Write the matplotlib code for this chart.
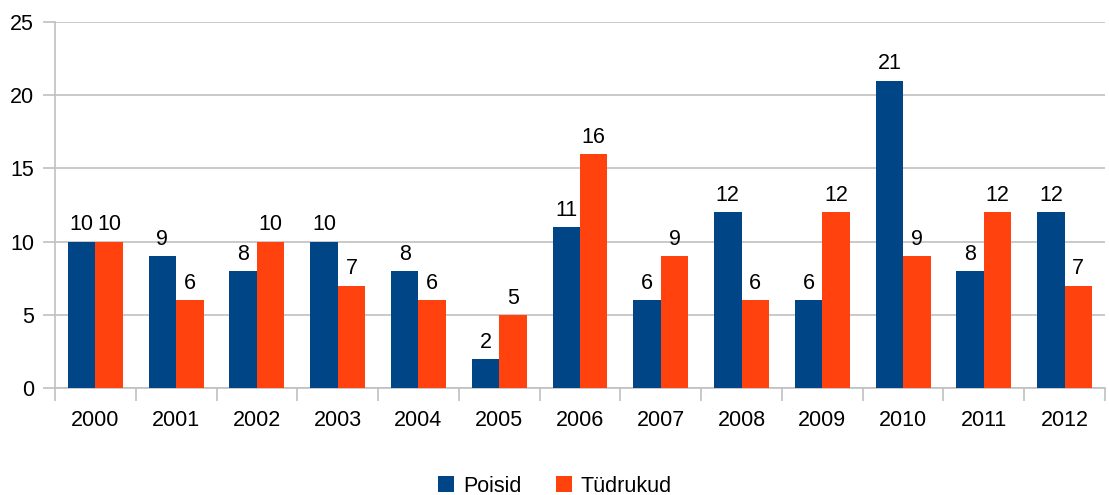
import matplotlib
matplotlib.use("Agg")
import matplotlib.pyplot as plt
import numpy as np

years = ["2000", "2001", "2002", "2003", "2004", "2005", "2006", "2007", "2008", "2009", "2010", "2011", "2012"]
poisid = [10, 9, 8, 10, 8, 2, 11, 6, 12, 6, 21, 8, 12]
tudrukud = [10, 6, 10, 7, 6, 5, 16, 9, 6, 12, 9, 12, 7]

blue = "#004586"
orange = "#ff420e"
grid = "#c0c0c0"
fs = 15.5

plt.rcParams['font.family'] = ['Liberation Sans', 'DejaVu Sans']
fig = plt.figure(figsize=(11.09, 4.95), dpi=100)
ax = fig.add_axes([55 / 1109, 1 - 388 / 495, 1050 / 1109, 366 / 495])

x = np.arange(len(years))
w = 0.34
b1 = ax.bar(x - w / 2, poisid, w, color=blue, label="Poisid", zorder=3)
b2 = ax.bar(x + w / 2, tudrukud, w, color=orange, label="Tüdrukud", zorder=3)
for bars, vals in ((b1, poisid), (b2, tudrukud)):
    for r, v in zip(bars, vals):
        ax.annotate(str(v), (r.get_x() + r.get_width() / 2, v), xytext=(0, 8), textcoords="offset points",
                    ha="center", va="baseline", fontsize=fs, color="black")

ax.set_xlim(-0.5, len(years) - 0.5)
ax.set_ylim(0, 25)
ax.set_yticks(range(0, 26, 5))
ax.yaxis.grid(True, color=grid, linewidth=1.2, zorder=0)
ax.set_xticks(x)
ax.set_xticklabels(years, fontsize=fs)
ax.set_xticks(np.arange(-0.5, len(years)), minor=True)
ax.tick_params(axis="x", which="major", length=0, pad=16)
ax.tick_params(axis="x", which="minor", length=9, color=grid, width=1.2)
ax.tick_params(axis="y", length=9, color=grid, width=1.2, labelsize=fs, pad=6)
for s in ("top", "right"):
    ax.spines[s].set_visible(False)
for s in ("left", "bottom"):
    ax.spines[s].set_color(grid)
    ax.spines[s].set_linewidth(1.2)

fig.legend(handles=[b1, b2], loc="center", bbox_to_anchor=(555 / 1109, 1 - 486 / 495), ncol=2,
           frameon=False, fontsize=fs, handlelength=0.75, handleheight=0.75, handletextpad=0.4, columnspacing=1.6)

fig.savefig("out.png", dpi=100)
